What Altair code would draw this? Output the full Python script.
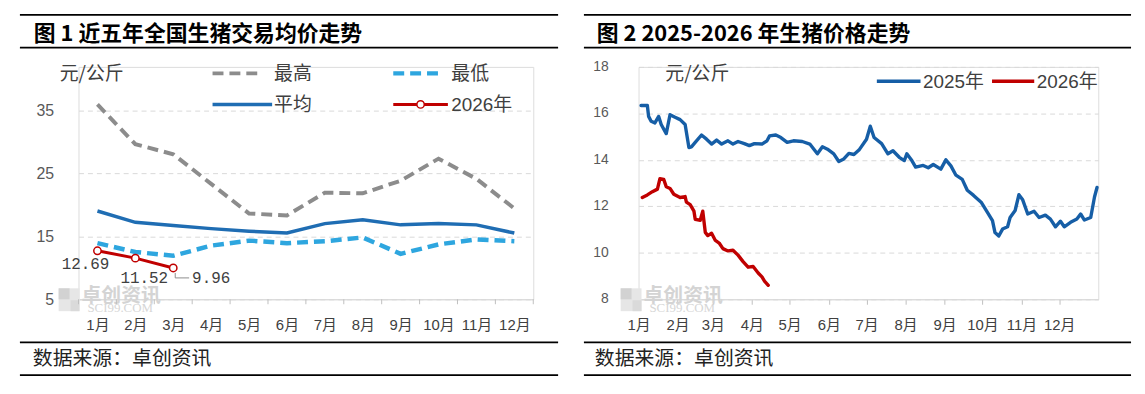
import altair as alt
import pandas as pd

# ---------------- data: left panel (monthly averages) ----------------
months = list(range(1, 13))
high = [35.9, 29.6, 28.0, 23.3, 18.6, 18.3, 21.9, 21.8, 23.8, 27.3, 24.1, 19.4]
avg = [19.0, 17.2, 16.7, 16.2, 15.8, 15.5, 17.0, 17.6, 16.8, 17.0, 16.8, 15.5]
low = [13.9, 12.5, 11.9, 13.5, 14.3, 13.9, 14.2, 14.8, 12.2, 13.7, 14.5, 14.2]
m2026 = [1, 2, 3]
v2026 = [12.69, 11.52, 9.96]
l2026 = ["12.69", "11.52", "9.96"]
left_yticks = [5, 15, 25, 35]
tick_bounds = [0.5 + i for i in range(13)]

# ---------------- data: right panel (day of year) ----------------
days_2025 = [3, 8, 9, 11, 14, 17, 19, 23, 26, 30, 34, 38, 41, 43, 46, 51, 55, 59, 63, 67,
             72, 76, 80, 85, 89, 93, 99, 103, 105, 110, 114, 119, 124, 131, 137, 143, 147,
             151, 156, 160, 164, 168, 172, 176, 182, 185, 188, 194, 199, 203, 208, 212, 214,
             218, 221, 227, 231, 235, 241, 245, 249, 253, 258, 262, 267, 273, 278, 282, 284,
             287, 290, 294, 296, 300, 303, 306, 310, 315, 319, 324, 328, 332, 336, 339, 344,
             349, 352, 355, 360, 363, 365]
price_2025 = [16.34, 16.34, 15.87, 15.66, 15.59, 15.87, 15.52, 15.13, 15.94, 15.83, 15.73,
              15.52, 14.53, 14.56, 14.75, 15.07, 14.89, 14.68, 14.85, 14.68, 14.82, 14.68,
              14.79, 14.70, 14.61, 14.70, 14.68, 14.82, 15.03, 15.07, 14.96, 14.75, 14.82,
              14.79, 14.68, 14.26, 14.56, 14.46, 14.26, 13.93, 14.04, 14.28, 14.23, 14.42,
              14.89, 15.45, 14.96, 14.70, 14.26, 14.39, 14.11, 13.97, 14.26, 13.97, 13.69,
              13.76, 13.66, 13.80, 13.60, 14.00, 13.74, 13.34, 13.16, 12.69, 12.47, 12.18,
              11.74, 11.38, 10.87, 10.72, 11.02, 11.12, 11.52, 11.82, 12.50, 12.28, 11.67,
              11.79, 11.52, 11.62, 11.45, 11.12, 11.36, 11.12, 11.31, 11.45, 11.67, 11.41,
              11.52, 12.40, 12.81]
days_2026 = [4, 8, 12, 16, 18, 21, 23, 26, 29, 34, 38, 39, 42, 45, 46, 50, 52, 54, 56, 59,
             62, 65, 68, 72, 76, 80, 84, 88, 92, 96, 99, 101, 104]
price_2026 = [12.38, 12.49, 12.63, 12.74, 13.19, 13.16, 12.84, 12.77, 12.52, 12.38, 12.42,
              12.18, 12.07, 11.79, 11.44, 11.40, 11.79, 10.88, 10.74, 10.84, 10.53, 10.42,
              10.18, 10.08, 10.11, 9.90, 9.62, 9.38, 9.41, 9.13, 8.96, 8.78, 8.60]
month_start_days = [1, 32, 60, 91, 121, 152, 182, 213, 244, 274, 305, 335]
right_yticks = [8, 10, 12, 14, 16, 18]

# ---------------- styles ----------------
CJK = "Noto Sans CJK SC"
LAB = "Liberation Sans, Noto Sans CJK SC"
GRAY_TXT = "#595959"
RED = "#c00000"
GRID = "#d9d9d9"
W1, H1 = 458, 234
W2, H2 = 463, 234
LEFT_TOP = 5 + H1 / 6.35

one = pd.DataFrame({"k": [0]})


def text_at(x, y, txt, size, color="#404040", weight="normal", font=CJK, align="left"):
    return alt.Chart(one).mark_text(
        text=txt, fontSize=size, color=color, fontWeight=weight, font=font,
        align=align, baseline="middle"
    ).encode(x=alt.value(x), y=alt.value(y))


def hrule(x1, x2, y, color="black", width=1.8, dash=None):
    kw = dict(color=color, strokeWidth=width)
    if dash:
        kw["strokeDash"] = dash
    return alt.Chart(one).mark_rule(**kw).encode(
        x=alt.value(x1), x2=alt.value(x2), y=alt.value(y))


def rect_at(x1, x2, y1, y2, color):
    return alt.Chart(one).mark_rect(color=color).encode(
        x=alt.value(x1), x2=alt.value(x2), y=alt.value(y1), y2=alt.value(y2))


def watermark(lx, ly):
    return [
        rect_at(lx, lx + 21, ly, ly + 23, "#e6e6e6"),
        rect_at(lx, lx + 11, ly, ly + 11, "#d2d2d2"),
        rect_at(lx + 12, lx + 21, ly + 12, ly + 23, "#dadada"),
        text_at(lx + 23, ly + 8, "卓创资讯", 20, color="#d4d4d4", weight="bold"),
        text_at(lx + 29, ly + 20, "SCI99.COM", 13, color="#d6d6d6", font="Liberation Serif"),
    ]


# ---------------- left panel ----------------
xL = alt.X("month:Q", scale=alt.Scale(domain=[0.5, 12.5], nice=False, zero=False),
           axis=alt.Axis(values=months, labelExpr="datum.value + '月'", title=None, grid=False,
                         domainColor=GRID, domainWidth=1.2, ticks=True, tickSize=5,
                         tickOpacity=0, labelPadding=13, labelFontSize=15,
                         labelColor="#404040", labelFont=LAB, labelFlush=False,
                         labelOverlap=False))
yL = alt.Y("value:Q", scale=alt.Scale(domain=[5, LEFT_TOP], nice=False, zero=False),
           axis=alt.Axis(values=left_yticks, title=None, domain=False, ticks=False, grid=True,
                         gridDash=[5, 4], gridColor=GRID, labelPadding=25, labelFontSize=16,
                         labelColor=GRAY_TXT, labelFont=LAB, labelOverlap=False))

df_high = pd.DataFrame({"month": months, "value": high})
df_avg = pd.DataFrame({"month": months, "value": avg})
df_low = pd.DataFrame({"month": months, "value": low})
df_26 = pd.DataFrame({"month": m2026, "value": v2026, "label": l2026})
df_tb = pd.DataFrame({"month": tick_bounds})

left_layers = [
    *watermark(-20, 223),
    alt.Chart(df_tb).mark_rule(color="#bfbfbf", strokeWidth=1).encode(
        x=xL, y=alt.value(H1), y2=alt.value(H1 + 5)),
    alt.Chart(df_high).mark_line(color="#8c8c8c", strokeWidth=4, strokeDash=[11, 6]).encode(x=xL, y=yL),
    alt.Chart(df_low).mark_line(color="#2ea6df", strokeWidth=4.5, strokeDash=[11, 6]).encode(x=xL, y=yL),
    alt.Chart(df_avg).mark_line(color="#1f6db3", strokeWidth=3.5).encode(x=xL, y=yL),
    alt.Chart(df_26).mark_line(color=RED, strokeWidth=3).encode(x=xL, y=yL),
    alt.Chart(df_26).mark_point(shape="circle", filled=True, fill="white", stroke=RED,
                                strokeWidth=1.5, size=55, opacity=1).encode(x=xL, y=yL),
    alt.Chart(df_26).transform_filter("datum.month == 1").mark_text(
        dx=-12, dy=13, fontSize=16, font="Liberation Mono", color="#404040").encode(
        x=xL, y=yL, text="label:N"),
    alt.Chart(df_26).transform_filter("datum.month == 2").mark_text(
        dx=9, dy=20, fontSize=16, font="Liberation Mono", color="#404040").encode(
        x=xL, y=yL, text="label:N"),
    alt.Chart(df_26).transform_filter("datum.month == 3").mark_text(
        dx=19, dy=10, align="left", fontSize=16, font="Liberation Mono", color="#404040").encode(
        x=xL, y=yL, text="label:N"),
    alt.Chart(df_26).transform_filter("datum.month == 3").mark_rule(
        color="#8c8c8c", strokeWidth=1, xOffset=2, yOffset=5, y2Offset=10).encode(
        x=xL, y=yL, y2="value:Q"),
    alt.Chart(df_26).transform_filter("datum.month == 3").mark_rule(
        color="#8c8c8c", strokeWidth=1, xOffset=2, x2Offset=16, yOffset=10).encode(
        x=xL, x2="month:Q", y=yL),
    # legend
    text_at(-19, 7.5, "元/公斤", 19),
    hrule(135, 186, 6.5, color="#8c8c8c", width=4, dash=[11, 6]),
    text_at(197, 7, "最高", 19),
    hrule(317, 368, 6.5, color="#2ea6df", width=4.5, dash=[11, 6]),
    text_at(375.5, 7, "最低", 19),
    hrule(135, 195, 37.8, color="#1f6db3", width=3.5),
    text_at(197, 38, "平均", 19),
    hrule(317, 372, 37.8, color=RED, width=3),
    alt.Chart(one).mark_point(shape="circle", filled=True, fill="white", stroke=RED,
                              strokeWidth=1.5, size=55, opacity=1).encode(
        x=alt.value(344.5), y=alt.value(37.8)),
    text_at(375.5, 38, "2026年", 19, font=LAB),
    # frame
    hrule(-59, 483, -52.5),
    hrule(-59, 483, -19.5),
    hrule(-59, 483, 277.5),
    hrule(-59, 483, 310.5),
    text_at(-45, -33.5, "图 1 近五年全国生猪交易均价走势", 22, color="black", weight="bold"),
    text_at(-46, 294.5, "数据来源：卓创资讯", 20, color="#222222"),
]
left = alt.layer(*left_layers).properties(width=W1, height=H1)

# ---------------- right panel ----------------
xR = alt.X("day:Q", scale=alt.Scale(domain=[1, 366], nice=False, zero=False),
           axis=alt.Axis(values=month_start_days,
                         labelExpr=f"indexof({month_start_days}, datum.value) + 1 + '月'",
                         title=None, grid=False, domainColor=GRID, domainWidth=1.2,
                         ticks=True, tickSize=5, tickColor="#bfbfbf", labelPadding=13,
                         labelFontSize=15, labelColor="#404040", labelFont=LAB,
                         labelFlush=False, labelOverlap=False))
yR = alt.Y("price:Q", scale=alt.Scale(domain=[8, 18], nice=False, zero=False),
           axis=alt.Axis(values=right_yticks, title=None, domain=False, ticks=False, grid=True,
                         gridDash=[5, 4], gridColor=GRID, labels=False))

df25 = pd.DataFrame({"day": days_2025, "price": price_2025})
df26r = pd.DataFrame({"day": days_2026, "price": price_2026})
df_rticks = pd.DataFrame({"price": right_yticks})

right_layers = [
    *watermark(-18, 223),
    alt.Chart(df_rticks).mark_text(align="right", baseline="middle", fontSize=14,
                                   font=LAB, color=GRAY_TXT).encode(
        x=alt.value(-30), y=yR, text="price:Q"),
    alt.Chart(df25).mark_line(color="#165ea6", strokeWidth=3.4, strokeJoin="round",
                              strokeCap="round").encode(x=xR, y=yR),
    alt.Chart(df26r).mark_line(color=RED, strokeWidth=3.4, strokeJoin="round",
                               strokeCap="round").encode(x=xR, y=yR),
    text_at(27, 7.5, "元/公斤", 19),
    hrule(240, 284, 14.5, color="#165ea6", width=3.4),
    text_at(286.5, 15, "2025年", 19, font=LAB),
    hrule(356, 398.5, 14.5, color=RED, width=3.4),
    text_at(401, 15, "2026年", 19, font=LAB),
    hrule(-55, 496, -52.5),
    hrule(-55, 496, -19.5),
    hrule(-55, 496, 277.5),
    hrule(-55, 496, 310.5),
    text_at(-42, -33.5, "图 2 2025-2026 年生猪价格走势", 22, color="black", weight="bold"),
    text_at(-44, 294.5, "数据来源：卓创资讯", 20, color="#222222"),
]
right = alt.layer(*right_layers).properties(width=W2, height=H2)

chart = alt.hconcat(left, right, spacing=22).properties(
    padding={"left": 10, "top": 4, "right": 4, "bottom": 4}
).configure_view(stroke=None).configure(background="white")

chart.save("out.html", embed_options={"renderer": "svg", "actions": False})
